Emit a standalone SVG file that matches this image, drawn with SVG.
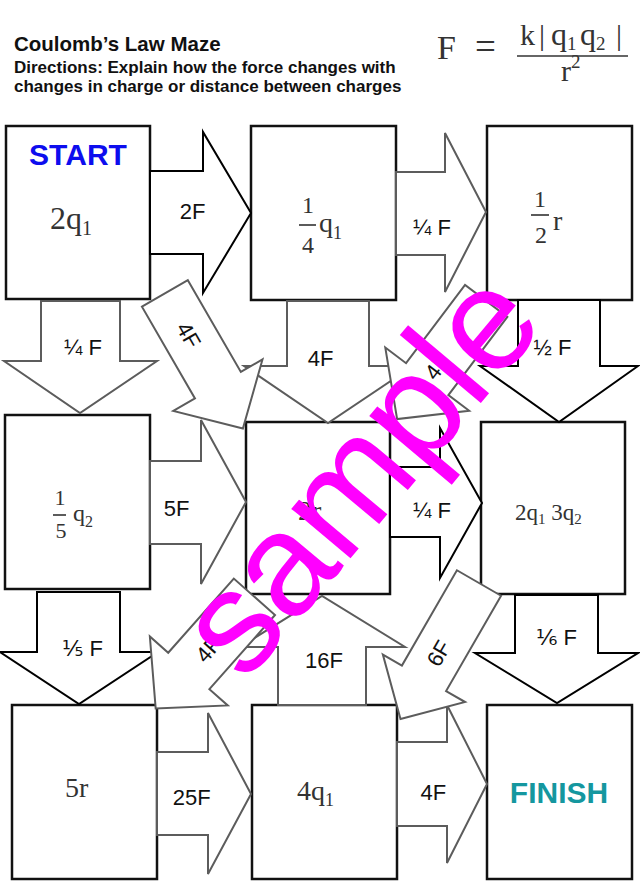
<svg xmlns="http://www.w3.org/2000/svg" width="640" height="895" viewBox="0 0 640 895">
<style>
.box{fill:#fff;stroke:#111;stroke-width:2.5}
.ab{fill:#fff;stroke:#000;stroke-width:2;stroke-linejoin:miter}
.ag{fill:#fff;stroke:#5c5c5c;stroke-width:2;stroke-linejoin:miter}
.lbl{font-family:"Liberation Sans","DejaVu Sans",Arial,sans-serif;font-size:22px;fill:#111;text-anchor:middle}
.hd{font-family:"Liberation Sans",Arial,sans-serif;font-weight:bold;fill:#111}
.m{font-family:"Liberation Serif","DejaVu Serif",serif;fill:#333}
.bar{stroke:#333;stroke-width:1.6}
.big{font-family:"Liberation Sans",Arial,sans-serif;font-weight:bold;font-size:30px;text-anchor:middle}
</style>
<rect width="640" height="895" fill="#fff"/>
<g id="header">
<text class="hd" x="14" y="51" font-size="20.5">Coulomb’s Law Maze</text>
<text class="hd" x="14" y="73" font-size="17">Directions: Explain how the force changes with</text>
<text class="hd" x="14" y="92" font-size="17">changes in charge or distance between charges</text>
<text class="m" x="437" y="59" font-size="34">F</text>
<text class="m" x="475" y="59" font-size="37">=</text>
<text class="m" y="45" font-size="30"><tspan x="520">k</tspan><tspan x="539">|</tspan><tspan x="551" font-size="32">q</tspan><tspan font-size="19" dy="5">1</tspan><tspan x="580" dy="-5" font-size="32">q</tspan><tspan font-size="19" dy="5">2</tspan><tspan x="616" dy="-5">|</tspan></text>
<line class="bar" x1="517" y1="56" x2="628" y2="56"/>
<text class="m" x="561" y="81" font-size="30">r<tspan font-size="19" dy="-13">2</tspan></text>
</g>
<g id="nodes">
<g id="start"><rect class="box" x="6" y="126" width="144" height="173"/>
<text class="big" x="78" y="165" fill="#0d0dee">START</text>
<text class="m" x="50" y="229" font-size="32">2q<tspan font-size="20" dy="6">1</tspan></text></g>
<g id="quarter-q1"><rect class="box" x="251" y="126" width="145" height="174"/>
<text class="m" x="308" y="213" font-size="24" text-anchor="middle">1</text>
<line class="bar" x1="299" y1="225" x2="316" y2="225"/>
<text class="m" x="308" y="253" font-size="24" text-anchor="middle">4</text>
<text class="m" x="319" y="232" font-size="28">q<tspan font-size="18" dy="7">1</tspan></text></g>
<g id="half-r"><rect class="box" x="487" y="126" width="145" height="174"/>
<text class="m" x="540" y="207" font-size="24" text-anchor="middle">1</text>
<line class="bar" x1="531" y1="215" x2="549" y2="215"/>
<text class="m" x="541" y="243" font-size="24" text-anchor="middle">2</text>
<text class="m" x="553" y="230" font-size="28">r</text></g>
<g id="fifth-q2"><rect class="box" x="5" y="415" width="145" height="174"/>
<text class="m" x="60" y="505" font-size="22" text-anchor="middle">1</text>
<line class="bar" x1="53" y1="515" x2="66" y2="515"/>
<text class="m" x="61" y="538" font-size="22" text-anchor="middle">5</text>
<text class="m" x="73" y="521" font-size="24">q<tspan font-size="16" dy="6">2</tspan></text></g>
<g id="two-r"><rect class="box" x="246" y="422" width="144" height="172"/>
<text class="m" x="298" y="520" font-size="28">2r</text></g>
<g id="2q1-3q2"><rect class="box" x="481" y="422" width="144" height="172"/>
<text class="m" x="515" y="520" font-size="23">2q<tspan font-size="15" dy="4">1</tspan><tspan dy="-4"> 3q</tspan><tspan font-size="15" dy="4">2</tspan></text></g>
<g id="five-r"><rect class="box" x="12" y="705" width="145" height="174"/>
<text class="m" x="65" y="797" font-size="28">5r</text></g>
<g id="four-q1"><rect class="box" x="252" y="705" width="145" height="174"/>
<text class="m" x="297" y="800" font-size="28">4q<tspan font-size="18" dy="6">1</tspan></text></g>
<g id="finish"><rect class="box" x="487" y="705" width="145" height="174"/>
<text class="big" x="559" y="803" fill="#15979f">FINISH</text></g>
</g>
<g id="connectors">
<g><polygon class="ab" points="150,171 203,171 203,132 251,213 203,293 203,254 150,254"/><text class="lbl" x="192.5" y="219">2F</text></g>
<g><polygon class="ag" points="396,172 445,172 445,133 486,212 445,292 445,255 396,255"/><text class="lbl" x="432" y="235">¼ F</text></g>
<g><polygon class="ag" points="41,301 120,301 120,361 157,361 80,413 4,361 41,361"/><text class="lbl" x="83" y="355">¼ F</text></g>
<g><polygon class="ag" points="287,301 369,301 369,366 413,366 328,423 244,366 287,366"/><text class="lbl" x="320.5" y="366">4F</text></g>
<g><polygon class="ab" points="518,300 600,300 600,366 638,366 559,422 480,366 518,366"/><text class="lbl" x="552.5" y="355">½ F</text></g>
<g><polygon class="ag" points="150,461 201,461 201,420 246,502 201,584 201,544 150,544"/><text class="lbl" x="176.5" y="516">5F</text></g>
<g><polygon class="ab" points="390,467 440,467 440,428 482,503 440,578 440,537 390,537"/><text class="lbl" x="432" y="518">¼ F</text></g>
<g><polygon class="ab" points="37,592 120,592 120,652 158,652 79,704 0,652 37,652"/><text class="lbl" x="82.5" y="656">⅕ F</text></g>
<g><polygon class="ag" points="278,705 278,647 240,647 322,596 405,647 366,647 366,705"/><text class="lbl" x="324" y="668">16F</text></g>
<g><polygon class="ab" points="515,595 598,595 598,653 638,653 557,703 475,653 515,653"/><text class="lbl" x="556.5" y="645">⅙ F</text></g>
<g><polygon class="ag" points="157,752 208,752 208,713 251,794 208,874 208,835 157,835"/><text class="lbl" x="191.7" y="805">25F</text></g>
<g><polygon class="ag" points="397,742 447,742 447,705 487,784 447,863 447,826 397,826"/><text class="lbl" x="433.3" y="800">4F</text></g>
<g transform="translate(164.9,293.4) rotate(60)"><polygon class="ag" points="0,-26.5 106,-26.5 106,-51.5 156,0 106,51.5 106,26.5 0,26.5"/><text class="lbl" x="48" y="8">4F</text></g>
<g transform="translate(486.2,300.9) rotate(127)"><polygon class="ag" points="0,-26.5 98,-26.5 98,-52.5 148,0 98,52.5 98,26.5 0,26.5"/><text class="lbl" transform="translate(82,0) rotate(180)" y="8">4F</text></g>
<g transform="translate(254.4,596.8) rotate(131.5)"><polygon class="ag" points="0,-27.5 99,-27.5 99,-52 149,0 99,52 99,27.5 0,27.5"/><text class="lbl" transform="translate(70,0) rotate(180)" y="8">4F</text></g>
<g transform="translate(479,583) rotate(120)"><polygon class="ag" points="0,-25.5 110,-25.5 110,-47.5 157,0 110,47.5 110,25.5 0,25.5"/><text class="lbl" transform="translate(81,0) rotate(180)" y="8">6F</text></g>
</g>
<text transform="translate(245,684) rotate(-50)" font-family="Liberation Sans,Arial,sans-serif" font-size="146" fill="#ff00ff">sample</text>
</svg>
